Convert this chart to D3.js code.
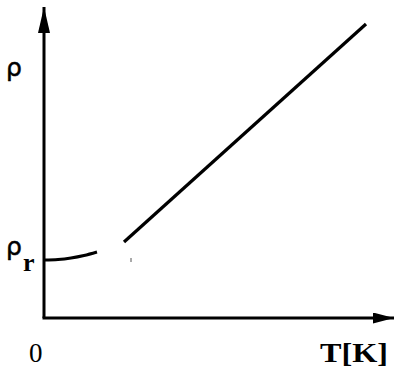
<!DOCTYPE html>
<html>
<head>
<meta charset="utf-8">
<script src="https://cdn.jsdelivr.net/npm/d3@7"></script>
<style>
  body { margin: 0; background: #fff; }
</style>
</head>
<body>
<div id="chart"></div>
<script>
const width = 395, height = 367;

// residual resistivity region (low T) and linear region (high T)
const lowT = [0, 14, 27, 40, 53];
const lowRho = [58, 58.5, 60, 62.5, 66];
const highT = [80, 322];
const highRho = [76, 294];
const tickT = 87, tickRho = [56, 60];
const axisMax = { T: 350, rho: 311 };

const svg = d3.select("#chart")
  .append("svg")
  .attr("width", width)
  .attr("height", height)
  .attr("viewBox", [0, 0, width, height]);

const x = d3.scaleLinear().domain([0, axisMax.T]).range([44, 394]);
const y = d3.scaleLinear().domain([0, axisMax.rho]).range([318, 7]);

const defs = svg.append("defs");
defs.append("marker")
  .attr("id", "arrow")
  .attr("viewBox", "0 0 26 12")
  .attr("refX", 26).attr("refY", 6)
  .attr("markerWidth", 26).attr("markerHeight", 12)
  .attr("markerUnits", "userSpaceOnUse")
  .attr("orient", "auto")
  .append("path")
  .attr("d", "M0,0L26,6L0,12Z")
  .attr("fill", "#000");

defs.append("marker")
  .attr("id", "arrowx")
  .attr("viewBox", "0 0 21 11")
  .attr("refX", 21).attr("refY", 5.5)
  .attr("markerWidth", 21).attr("markerHeight", 11)
  .attr("markerUnits", "userSpaceOnUse")
  .attr("orient", "auto")
  .append("path")
  .attr("d", "M0,0L21,5.5L0,11Z")
  .attr("fill", "#000");

// axes
svg.append("line")
  .attr("x1", x(0)).attr("y1", y(0))
  .attr("x2", x(0)).attr("y2", y(axisMax.rho))
  .attr("stroke", "#000").attr("stroke-width", 3)
  .attr("marker-end", "url(#arrow)");

svg.append("line")
  .attr("x1", x(0) - 1.5).attr("y1", y(0))
  .attr("x2", x(axisMax.T)).attr("y2", y(0))
  .attr("stroke", "#000").attr("stroke-width", 3)
  .attr("marker-end", "url(#arrowx)");

// curves
const line = d3.line().x(d => x(d[0])).y(d => y(d[1])).curve(d3.curveCatmullRom);

svg.append("path")
  .datum(d3.zip(lowT, lowRho))
  .attr("d", line)
  .attr("fill", "none")
  .attr("stroke", "#000")
  .attr("stroke-width", 3);

svg.append("path")
  .datum(d3.zip(highT, highRho))
  .attr("d", d3.line().x(d => x(d[0])).y(d => y(d[1])))
  .attr("fill", "none")
  .attr("stroke", "#000")
  .attr("stroke-width", 3.2);

svg.append("line")
  .attr("x1", x(tickT)).attr("x2", x(tickT))
  .attr("y1", y(tickRho[0])).attr("y2", y(tickRho[1]))
  .attr("stroke", "#555").attr("stroke-width", 1);

// labels
const greek = sel => sel
  .style("font-family", "DejaVu Sans")
  .style("font-size", "25px")
  .attr("stroke", "#000")
  .attr("stroke-width", 0.5);

svg.append("text")
  .attr("x", 6).attr("y", 76)
  .call(greek)
  .text("ρ");

svg.append("text")
  .attr("x", 6).attr("y", 255)
  .call(greek)
  .text("ρ");
svg.append("text")
  .attr("x", 23).attr("y", 271)
  .style("font-family", "Liberation Serif")
  .style("font-size", "26px")
  .style("font-weight", "bold")
  .text("r");

svg.append("text")
  .attr("x", 29).attr("y", 362)
  .style("font-family", "Liberation Serif")
  .style("font-size", "27px")
  .text("0");

svg.append("text")
  .attr("x", 320).attr("y", 362)
  .attr("textLength", 68)
  .attr("lengthAdjust", "spacingAndGlyphs")
  .style("font-family", "Liberation Serif")
  .style("font-size", "27px")
  .style("font-weight", "bold")
  .text("T[K]");
</script>
</body>
</html>
